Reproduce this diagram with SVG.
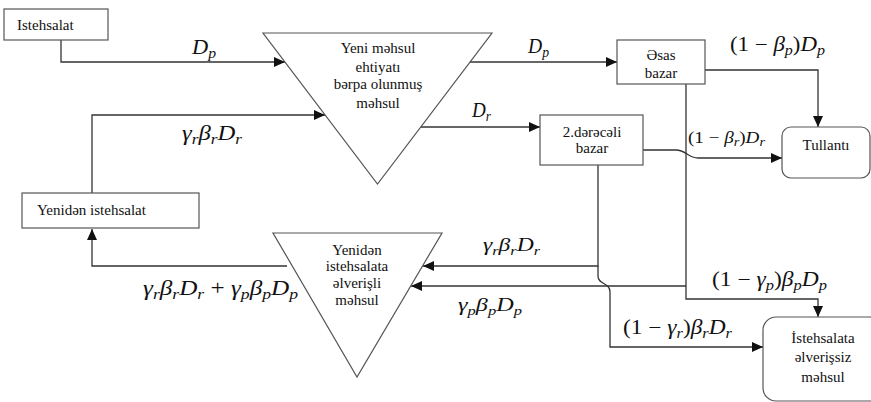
<svg xmlns="http://www.w3.org/2000/svg" width="871" height="402" viewBox="0 0 871 402">
<style>
.box{fill:#fff;stroke:#555;stroke-width:1.2}
.tri{fill:#fff;stroke:#555;stroke-width:1.2}
.t{font-family:"Liberation Serif","Times New Roman",serif;font-size:15px;fill:#111}
.c{text-anchor:middle}
.m{font-family:"Liberation Serif","Times New Roman",serif;font-style:italic;fill:#111}
.u{font-style:normal}
.ln{fill:none;stroke:#333;stroke-width:1.3}
</style>
<defs>
<marker id="ar" markerUnits="userSpaceOnUse" markerWidth="12" markerHeight="10" refX="11" refY="5" orient="auto">
<path d="M0,0 L11,5 L0,10 z" fill="#111"/>
</marker>
</defs>
<g id="connectors">
<path class="ln" d="M61,40 V62 H285" marker-end="url(#ar)"/>
<path class="ln" d="M92,193 V115 H325" marker-end="url(#ar)"/>
<path class="ln" d="M470,62 H617" marker-end="url(#ar)"/>
<path class="ln" d="M418,127 H540" marker-end="url(#ar)"/>
<path class="ln" d="M705,70 H818 V127" marker-end="url(#ar)"/>
<path class="ln" d="M643,150 H676 C686,150 688,158 698,158 H782" marker-end="url(#ar)"/>
<path class="ln" d="M686,84 V299 H818 V317" marker-end="url(#ar)"/>
<path class="ln" d="M686,286 H411" marker-end="url(#ar)"/>
<path class="ln" d="M598,165 V266 H423" marker-end="url(#ar)"/>
<path class="ln" d="M598,266 V276 C598,285 610,282 610,292 V347 H763" marker-end="url(#ar)"/>
<path class="ln" d="M287,266 H92 V229" marker-end="url(#ar)"/>
</g>
<g id="istehsalat">
<rect class="box" x="4" y="9" width="104" height="31"/>
<text class="t" x="17" y="30">Istehsalat</text>
</g>
<g id="yeni-mehsul">
<polygon class="tri" points="263,33 492,33 377.5,184"/>
<text class="t c" x="378" y="53">Yeni məhsul</text>
<text class="t c" x="378" y="72">ehtiyatı</text>
<text class="t c" x="378" y="89">bərpa olunmuş</text>
<text class="t c" x="378" y="108">məhsul</text>
</g>
<g id="yeniden-istehsalat">
<rect class="box" x="22" y="193" width="177" height="35"/>
<text class="t" x="37" y="215">Yenidən istehsalat</text>
</g>
<g id="esas-bazar">
<rect class="box" x="617" y="40" width="88" height="44"/>
<text class="t c" x="661" y="60">Əsas</text>
<text class="t c" x="661" y="78">bazar</text>
</g>
<g id="ikinci-bazar">
<rect class="box" x="540" y="115" width="103" height="50"/>
<text class="t c" x="592" y="137">2.dərəcəli</text>
<text class="t c" x="592" y="153">bazar</text>
</g>
<g id="tullanti">
<rect class="box" x="782" y="127" width="88" height="51" rx="9"/>
<text class="t c" x="826" y="150">Tullantı</text>
</g>
<g id="elverissiz">
<rect class="box" x="763" y="317" width="120" height="84" rx="13"/>
<text class="t c" x="823" y="343">İstehsalata</text>
<text class="t c" x="823" y="362">əlverişsiz</text>
<text class="t c" x="823" y="382">məhsul</text>
</g>
<g id="elverisli">
<polygon class="tri" points="273,233 442,233 357,377"/>
<text class="t c" x="357" y="255">Yenidən</text>
<text class="t c" x="357" y="271">istehsalata</text>
<text class="t c" x="357" y="288">əlverişli</text>
<text class="t c" x="357" y="305">məhsul</text>
</g>
<g id="labels">
<text class="m" x="192" y="54" font-size="20" textLength="24" lengthAdjust="spacingAndGlyphs">D<tspan font-size="14" dy="4">p</tspan></text>
<text class="m" x="182" y="140" font-size="20" textLength="60" lengthAdjust="spacingAndGlyphs">γ<tspan font-size="14" dy="4">r</tspan><tspan dy="-4">β</tspan><tspan font-size="14" dy="4">r</tspan><tspan dy="-4">D</tspan><tspan font-size="14" dy="4">r</tspan></text>
<text class="m" x="528" y="53" font-size="20" textLength="21" lengthAdjust="spacingAndGlyphs">D<tspan font-size="14" dy="4">p</tspan></text>
<text class="m" x="472" y="117" font-size="20" textLength="19" lengthAdjust="spacingAndGlyphs">D<tspan font-size="14" dy="4">r</tspan></text>
<text class="m" x="730" y="51" font-size="20" textLength="95" lengthAdjust="spacingAndGlyphs"><tspan class="u">(1 − </tspan>β<tspan font-size="14" dy="4">p</tspan><tspan class="u" dy="-4">)</tspan>D<tspan font-size="14" dy="4">p</tspan></text>
<text class="m" x="688" y="143" font-size="16" textLength="77" lengthAdjust="spacingAndGlyphs"><tspan class="u">(1 − </tspan>β<tspan font-size="12" dy="3">r</tspan><tspan class="u" dy="-3">)</tspan>D<tspan font-size="12" dy="3">r</tspan></text>
<text class="m" x="483" y="251" font-size="19" textLength="57" lengthAdjust="spacingAndGlyphs">γ<tspan font-size="13" dy="4">r</tspan><tspan dy="-4">β</tspan><tspan font-size="13" dy="4">r</tspan><tspan dy="-4">D</tspan><tspan font-size="13" dy="4">r</tspan></text>
<text class="m" x="458" y="311" font-size="19" textLength="64" lengthAdjust="spacingAndGlyphs">γ<tspan font-size="13" dy="4">p</tspan><tspan dy="-4">β</tspan><tspan font-size="13" dy="4">p</tspan><tspan dy="-4">D</tspan><tspan font-size="13" dy="4">p</tspan></text>
<text class="m" x="712" y="286" font-size="20" textLength="115" lengthAdjust="spacingAndGlyphs"><tspan class="u">(1 − </tspan>γ<tspan font-size="14" dy="4">p</tspan><tspan class="u" dy="-4">)</tspan>β<tspan font-size="14" dy="4">p</tspan><tspan dy="-4">D</tspan><tspan font-size="14" dy="4">p</tspan></text>
<text class="m" x="623" y="334" font-size="20" textLength="109" lengthAdjust="spacingAndGlyphs"><tspan class="u">(1 − </tspan>γ<tspan font-size="14" dy="4">r</tspan><tspan class="u" dy="-4">)</tspan>β<tspan font-size="14" dy="4">r</tspan><tspan dy="-4">D</tspan><tspan font-size="14" dy="4">r</tspan></text>
<text class="m" x="143" y="295" font-size="20" textLength="155" lengthAdjust="spacingAndGlyphs">γ<tspan font-size="14" dy="4">r</tspan><tspan dy="-4">β</tspan><tspan font-size="14" dy="4">r</tspan><tspan dy="-4">D</tspan><tspan font-size="14" dy="4">r</tspan><tspan class="u" dy="-4"> + </tspan>γ<tspan font-size="14" dy="4">p</tspan><tspan dy="-4">β</tspan><tspan font-size="14" dy="4">p</tspan><tspan dy="-4">D</tspan><tspan font-size="14" dy="4">p</tspan></text>
</g>
</svg>
